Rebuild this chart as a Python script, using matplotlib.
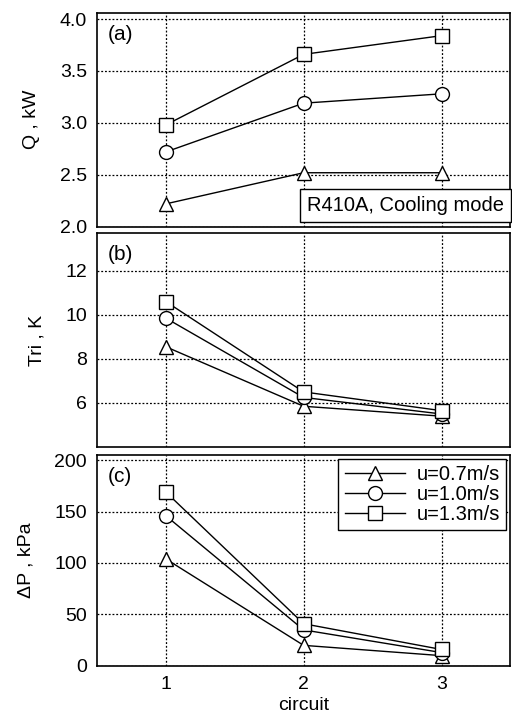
import numpy as np
import matplotlib.pyplot as plt

plt.rcParams['font.family'] = ['Liberation Sans', 'DejaVu Sans']

# ── Data ────────────────────────────────────────────────────────────────────
circuits = [1, 2, 3]
speeds = ["u=0.7m/s", "u=1.0m/s", "u=1.3m/s"]
markers = ["^", "o", "s"]

q_kw = [
    [2.22, 2.52, 2.52],
    [2.72, 3.19, 3.28],
    [2.98, 3.66, 3.84],
]
tri_k = [
    [8.55, 5.85, 5.4],
    [9.85, 6.25, 5.5],
    [10.6, 6.5, 5.65],
]
dp_kpa = [
    [104, 20, 10],
    [146, 35, 13],
    [169, 41, 16],
]

ylabels = ["Q , kW", "Tri , K", "ΔP , kPa"]
panel_tags = ["(a)", "(b)", "(c)"]
yticks = [[2.0, 2.5, 3.0, 3.5, 4.0], [6, 8, 10, 12], [0, 50, 100, 150, 200]]
ylims = [(2.0, 4.06), (4.0, 13.7), (0, 205)]

# ── Figure ───────────────────────────────────────────────────────────────────
fig = plt.figure(figsize=(5.12, 7.13), dpi=100)
boxes = [
    [0.189, 0.682, 0.808, 0.300],
    [0.189, 0.373, 0.808, 0.300],
    [0.189, 0.066, 0.808, 0.296],
]

for i, series in enumerate([q_kw, tri_k, dp_kpa]):
    ax = fig.add_axes(boxes[i])
    for vals, mk, lab in zip(series, markers, speeds):
        ax.plot(circuits, vals, color="black", lw=1.0, marker=mk, ms=10,
                mfc="white", mec="black", mew=1.0, label=lab, zorder=3)
    ax.set_xlim(0.5, 3.5)
    ax.set_ylim(*ylims[i])
    ax.set_yticks(yticks[i])
    if i == 0:
        ax.set_yticklabels([f"{v:.1f}" for v in yticks[i]])
    ax.set_xticks(circuits)
    ax.grid(True, color="black", linestyle=(0, (1.5, 1.5)), lw=0.9)
    ax.tick_params(direction="in", length=0, labelsize=14, pad=7)
    for sp in ax.spines.values():
        sp.set_linewidth(1.2)
    ax.set_ylabel(ylabels[i], fontsize=14, labelpad=14)
    ax.text(0.027, 0.945, panel_tags[i], transform=ax.transAxes,
            fontsize=15, va="top", ha="left")
    if i < 2:
        ax.tick_params(labelbottom=False)
    else:
        ax.set_xlabel("circuit", fontsize=14, labelpad=3)
        ax.legend(loc="upper right", fontsize=14.5, frameon=True, fancybox=False,
                  edgecolor="black", framealpha=1, handlelength=3.0,
                  borderpad=0.3, labelspacing=0.05, handletextpad=0.6,
                  borderaxespad=0.2)
    if i == 0:
        ax.text(0.985, 0.055, "R410A, Cooling mode", transform=ax.transAxes,
                fontsize=14.5, ha="right", va="bottom",
                bbox=dict(boxstyle="square,pad=0.35", fc="white", ec="black", lw=1.0))

fig.savefig("out.png", dpi=100)
